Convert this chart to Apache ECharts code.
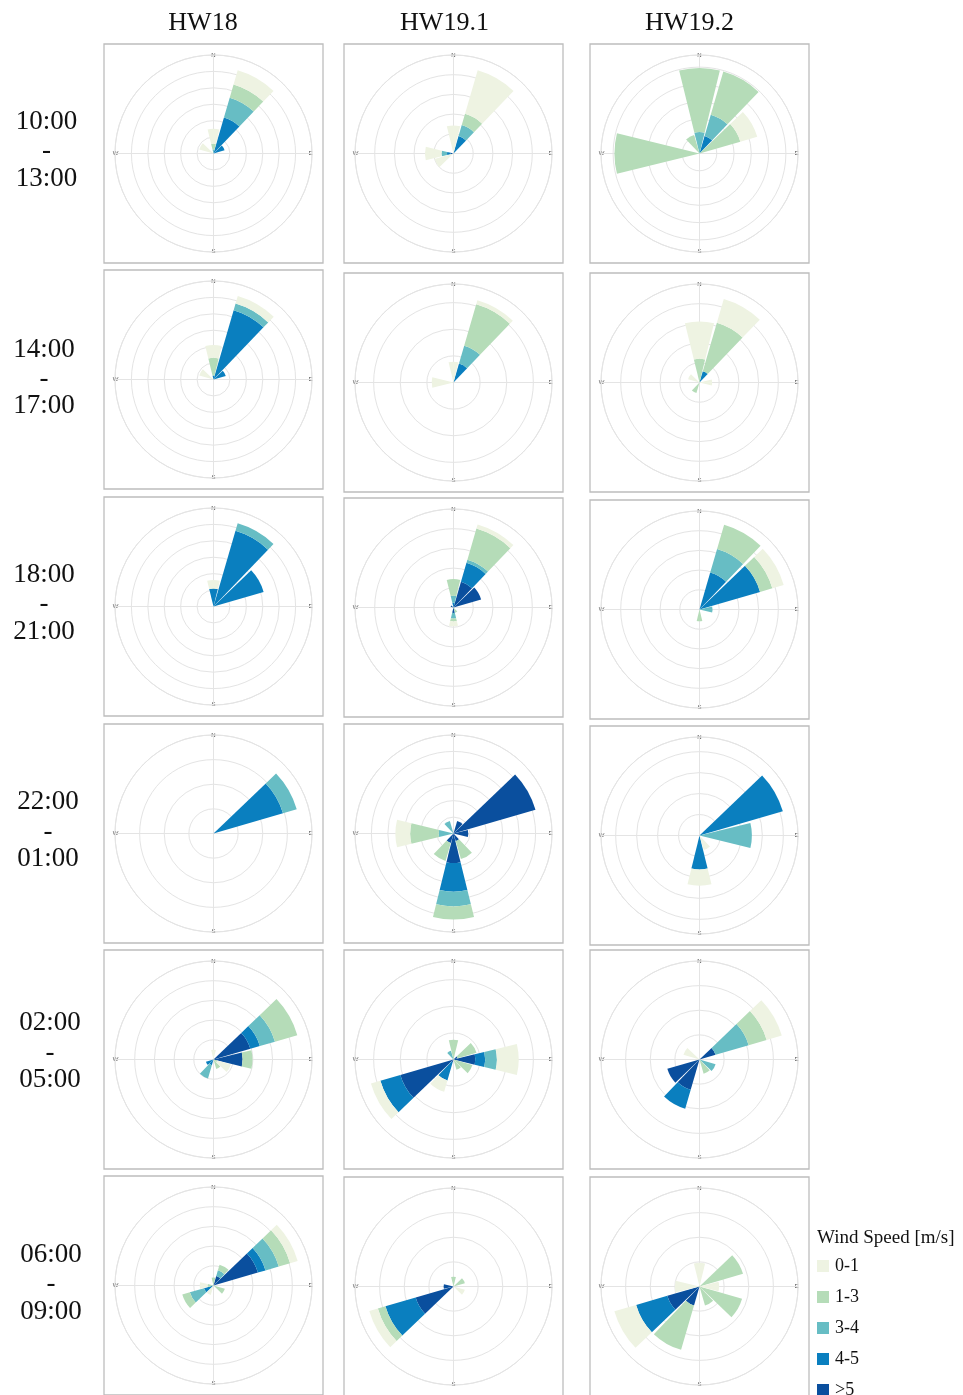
<!DOCTYPE html>
<html>
<head>
<meta charset="utf-8">
<script src="https://cdn.jsdelivr.net/npm/echarts@6/dist/echarts.min.js"></script>
<style>
  html, body { margin: 0; padding: 0; background: #ffffff; }
  #chart { width: 963px; height: 1395px; }
</style>
</head>
<body>
<div id="chart"></div>
<script>
// 12 direction sectors of 30 degrees, clockwise from north
const directions = ['N', 'NNE', 'ENE', 'E', 'ESE', 'SSE', 'S', 'SSW', 'WSW', 'W', 'WNW', 'NNW'];
// speed classes, stacked from the centre outwards
const speedBins = ['>5', '4-5', '3-4', '1-3', '0-1'];
const legendOrder = ['0-1', '1-3', '3-4', '4-5', '>5'];
const binColors = { '>5': '#0a4f9e', '4-5': '#0a7fbf', '3-4': '#67bdc4', '1-3': '#b5dcb8', '0-1': '#eef3e2' };
const stations = ['HW18', 'HW19.1', 'HW19.2'];
const periods = [
  ['10:00', '13:00'], ['14:00', '17:00'], ['18:00', '21:00'],
  ['22:00', '01:00'], ['02:00', '05:00'], ['06:00', '09:00']
];
const compass = { 0: 'N', 90: 'E', 180: 'S', 270: 'W' };

// Frequency (%) per direction. Rows: >5, 4-5, 3-4, 1-3, 0-1 m/s
// Columns: N, NNE, ENE, E, ESE, SSE, S, SSW, WSW, W, WNW, NNW
const HW18_10_13 = [
  [0, 0, 0, 0, 0, 0, 0, 0, 0, 0, 0, 0],
  [0, 11.4, 3.5, 0, 0, 0, 0, 0, 0, 0, 0, 0],
  [1.2, 6.3, 0, 0, 0, 0, 0, 0, 0, 0, 0, 0],
  [1.8, 4.2, 0, 0, 0, 0, 0, 0, 0, 0, 0, 0],
  [4.5, 4.5, 0, 0, 0, 0, 0, 0, 0, 0, 4.5, 0]
];
const HW191_10_13 = [
  [0, 0, 0, 0, 0, 0, 0, 0, 0, 0.74, 0, 0],
  [0, 4.6, 0, 0, 0, 0, 0, 0, 0, 0.9, 0, 0],
  [0, 2.9, 0, 0, 0, 0, 0, 0, 0, 1.4, 0, 0],
  [0, 3.0, 0, 0, 0, 0, 0, 0, 0, 0, 0, 0],
  [7.1, 11.5, 0, 0, 0, 0, 0, 0, 5.0, 4.2, 0, 0]
];
const HW192_10_13 = [
  [0, 0, 0, 0, 0, 0, 0, 0, 0, 0, 0, 0],
  [0, 5.3, 0, 0, 0, 0, 0, 0, 0, 0, 0, 0],
  [6.2, 6.4, 0, 0, 0, 0, 0, 0, 0, 0, 0, 0],
  [18.5, 13.0, 12.3, 0, 0, 0, 0, 0, 0, 24.6, 0, 5.6],
  [0, 0, 5.1, 0, 0, 0, 0, 0, 0, 0, 0, 0]
];
const HW18_14_17 = [
  [0, 0, 0, 0, 0, 0, 0, 0, 0, 0, 0, 0],
  [1.2, 22.0, 3.9, 0, 0, 0, 0, 0, 0, 0, 0, 0],
  [0, 2.1, 0, 0, 0, 0, 0, 0, 0, 0, 0, 0],
  [5.4, 0, 0, 0, 0, 0, 0, 0, 0, 0, 0, 0],
  [3.9, 2.4, 0, 0, 0, 0, 0, 0, 0, 0, 4.5, 0]
];
const HW191_14_17 = [
  [0, 0, 0, 0, 0, 0, 0, 0, 0, 0, 0, 0],
  [0, 3.7, 0, 0, 0, 0, 0, 0, 0, 0, 0, 0],
  [0, 3.5, 0, 0, 0, 0, 0, 0, 0, 0, 0, 0],
  [0, 8.1, 0, 0, 0, 0, 0, 0, 0, 0, 0, 0],
  [3.9, 0.8, 0, 0, 0, 0, 0, 0, 0, 4.1, 0, 0]
];
const HW192_14_17 = [
  [0, 0, 0, 0, 0, 0, 0, 0, 0, 0, 0, 0],
  [0, 3.0, 0, 0, 0, 0, 0, 0, 0, 0, 0, 0],
  [0, 0, 0, 0, 0, 0, 0, 0, 0, 0, 0, 0],
  [6.0, 12.8, 0, 0, 0, 0, 0, 2.8, 0, 0, 0, 0],
  [9.5, 6.3, 0, 3.2, 0, 0, 0, 0, 0, 0, 3.0, 0]
];
const HW18_18_21 = [
  [0, 0, 0, 0, 0, 0, 0, 0, 0, 0, 0, 0],
  [5.5, 24.0, 15.9, 0, 0, 0, 0, 0, 0, 0, 0, 0],
  [0, 2.4, 0, 0, 0, 0, 0, 0, 0, 0, 0, 0],
  [0, 0, 0, 0, 0, 0, 0, 0, 0, 0, 0, 0],
  [2.6, 0, 0, 0, 0, 0, 0, 0, 0, 0, 0, 0]
];
const HW191_18_21 = [
  [0, 6.8, 7.3, 0, 0, 0, 1.4, 0, 0, 0, 0.75, 0],
  [1.2, 5.0, 0, 0, 0, 0, 0, 0, 0, 0, 0, 0],
  [1.8, 0.85, 0, 0, 0, 0, 1.4, 0, 0, 0, 0, 0],
  [4.2, 8.2, 0, 0, 0, 1.4, 0.75, 0, 0, 0, 0, 0],
  [0, 1.1, 0, 0, 0, 0, 1.2, 0, 0, 0, 0, 0]
];
const HW192_18_21 = [
  [0, 0, 0, 0, 0, 0, 0, 0, 0, 0, 0, 0],
  [0, 9.75, 16.0, 0, 0, 0, 0, 0, 0, 0, 0, 0],
  [0, 6.25, 0, 3.3, 0, 0, 0, 0, 0, 0, 0, 0],
  [0, 6.4, 3.25, 0, 0, 0, 3.0, 0, 0, 0, 0, 0],
  [0, 0, 3.0, 0, 0, 0, 0, 0, 0, 0, 0, 0]
];
const HW18_22_01 = [
  [0, 0, 0, 0, 0, 0, 0, 0, 0, 0, 0, 0],
  [0, 0, 14.7, 0, 0, 0, 0, 0, 0, 0, 0, 0],
  [0, 0, 2.9, 0, 0, 0, 0, 0, 0, 0, 0, 0],
  [0, 0, 0, 0, 0, 0, 0, 0, 0, 0, 0, 0],
  [0, 0, 0, 0, 0, 0, 0, 0, 0, 0, 0, 0]
];
const HW191_22_01 = [
  [0, 4.0, 26.0, 4.5, 0, 2.4, 9.0, 3.0, 0, 0, 0, 0],
  [0, 0, 0, 0, 0, 0, 8.7, 0, 0, 0, 0, 0],
  [0, 0, 0, 0, 0, 0, 4.5, 0, 0, 4.5, 0, 4.0],
  [0, 0, 0, 0, 0, 5.7, 4.0, 5.7, 0, 8.7, 0, 0],
  [0, 0, 0, 0, 0, 0, 0, 0, 0, 4.5, 0, 0]
];
const HW192_22_01 = [
  [0, 0, 0, 0, 0, 0, 0, 0, 0, 0, 0, 0],
  [0, 0, 20.7, 0, 0, 0, 8.1, 0, 0, 0, 0, 0],
  [0, 0, 0, 12.5, 0, 0, 0, 0, 0, 0, 0, 0],
  [0, 0, 0, 0, 0, 0, 0, 0, 0, 0, 0, 0],
  [0, 0, 0, 0, 0, 3.6, 3.9, 0, 0, 0, 0, 0]
];
const HW18_02_05 = [
  [0, 0, 9.75, 7.4, 0, 0, 0, 0, 0, 0, 0, 0],
  [0, 0, 2.5, 0, 0, 0, 0, 1.5, 2.0, 0, 0, 0],
  [0, 0, 4.0, 0, 0, 0, 0, 3.5, 0, 0, 0, 0],
  [0, 0, 5.9, 2.5, 1.0, 2.5, 0, 0, 0, 0, 0, 0],
  [2.5, 0, 0, 0, 3.6, 0, 0, 0, 0, 0, 0, 0]
];
const HW191_02_05 = [
  [0, 0, 0.8, 4.1, 0, 0, 0, 0.5, 10.4, 0, 0, 0],
  [0, 0, 0, 1.85, 0, 0, 0, 3.6, 3.9, 0, 0, 0],
  [0, 0, 0, 2.2, 0, 0, 0, 0, 0, 0, 0, 1.7],
  [3.7, 0, 3.7, 0, 3.7, 2.0, 0, 0, 0, 0, 0, 0],
  [0, 0, 0, 4.1, 0, 0, 0, 2.2, 1.85, 0, 0, 0]
];
const HW192_02_05 = [
  [0, 0, 3.4, 0, 0, 0, 0, 6.4, 6.8, 0, 0, 0],
  [0, 0, 0, 0, 0, 0, 0, 4.0, 0, 0, 0, 0],
  [0, 0, 7.0, 0, 3.4, 0, 0, 0, 0, 0, 0, 0],
  [0, 0, 3.8, 0, 0, 3.0, 0, 0, 0, 0, 0, 0],
  [0, 0, 3.2, 0, 0, 0, 0, 0, 0, 0, 3.4, 0]
];
const HW18_06_09 = [
  [0, 2.5, 11.75, 0, 0, 0, 0, 0, 0, 0, 0, 0],
  [0, 0, 2.0, 0, 0, 0, 0, 0, 2.5, 0, 0, 0],
  [0, 1.5, 3.5, 0, 0, 0, 0, 0, 3.75, 0, 0, 0],
  [2.0, 1.5, 3.0, 0, 3.0, 0, 0, 0, 2.0, 1.5, 0, 0],
  [0, 0, 2.0, 0, 0, 0, 0, 2.5, 0, 2.0, 0, 0]
];
const HW191_06_09 = [
  [0, 0, 0, 0, 0, 0, 0, 0, 8.0, 2.0, 0, 0],
  [0, 0, 0, 0, 0, 0, 0, 0, 6.4, 0, 0, 0],
  [0, 0, 0, 0, 0, 0, 0, 0, 0, 0, 0, 0],
  [2.0, 0, 2.4, 0, 0, 0, 0, 0, 1.6, 0, 0, 0],
  [0, 0, 0, 0, 2.4, 0, 0, 0, 1.8, 0, 0, 0]
];
const HW192_06_09 = [
  [0, 0, 0, 0, 0, 0, 0, 4.0, 6.8, 0, 0, 0],
  [0, 0, 0, 0, 0, 0, 0, 0, 6.6, 0, 0, 0],
  [0, 0, 0, 0, 0, 0, 0, 0, 0, 0, 0, 0],
  [0, 0, 9.2, 0, 9.0, 4.0, 0, 9.4, 0, 0, 0, 0],
  [4.8, 0, 0, 4.0, 0, 0, 0, 0, 4.6, 5.0, 0, 0]
];

const panelData = [
  [HW18_10_13, HW191_10_13, HW192_10_13],
  [HW18_14_17, HW191_14_17, HW192_14_17],
  [HW18_18_21, HW191_18_21, HW192_18_21],
  [HW18_22_01, HW191_22_01, HW192_22_01],
  [HW18_02_05, HW191_02_05, HW192_02_05],
  [HW18_06_09, HW191_06_09, HW192_06_09]
];
// outer ring of each rose (%), rings every 5 %
const radiusMax = [
  [30, 25, 28.5],
  [30, 18.5, 25],
  [30, 25, 25],
  [20, 30, 23.5],
  [25, 18.5, 20],
  [25, 20, 20]
];
const ringStep = 5;

// page layout
const colLeft = [104, 344, 590];
const rowTop = [
  [44, 44, 44], [270, 273, 273], [497, 498, 500],
  [724, 724, 726], [950, 950, 950], [1176, 1177, 1177]
];
const BOX = 219;
const ROSE_R = 98.5;
const titleX = [203, 444.5, 689.5];
const rowLabelX = [46.5, 44, 44, 48, 50, 51];
const rowLabelY = [
  [122, 151, 179], [350, 379, 406], [575, 604, 632],
  [802, 832, 859], [1023, 1053, 1080], [1255, 1284, 1312]
];

const SERIF = '"Liberation Serif", "Times New Roman", serif';
const GRID = '#e4e4e4';

const polar = [], angleAxis = [], radiusAxis = [], series = [], graphic = [];

periods.forEach((period, r) => {
  stations.forEach((station, c) => {
    const x0 = colLeft[c], y0 = rowTop[r][c];
    const center = [x0 + BOX / 2, y0 + BOX / 2];
    graphic.push({
      type: 'rect', silent: true, z: 0,
      shape: { x: x0, y: y0, width: BOX, height: BOX },
      style: { fill: 'none', stroke: '#bdbdbd', lineWidth: 1.3 }
    });

    // grid layer: rings, compass cross and N/E/S/W letters
    const g = polar.length;
    polar.push({ center, radius: ROSE_R });
    angleAxis.push({
      polarIndex: g, type: 'value', min: 0, max: 360, interval: 90,
      startAngle: 90, clockwise: true, z: 1,
      axisLine: { show: true, lineStyle: { color: GRID, width: 1 } },
      axisTick: { show: false },
      splitLine: { show: true, lineStyle: { color: GRID, width: 1 } },
      axisLabel: {
        margin: -3.5, fontSize: 6, color: '#555',
        fontFamily: 'Liberation Sans, Arial, sans-serif',
        formatter: v => compass[v] || ''
      }
    });
    radiusAxis.push({
      polarIndex: g, type: 'value', min: 0, max: radiusMax[r][c], interval: ringStep, z: 1,
      axisLine: { show: false }, axisTick: { show: false }, axisLabel: { show: false },
      splitLine: { show: true, lineStyle: { color: GRID, width: 1 } }
    });

    // bar layer: direction sectors centred on 0, 30, ... 330 degrees
    const p = polar.length;
    polar.push({ center, radius: ROSE_R });
    angleAxis.push({
      polarIndex: p, type: 'category', data: directions, boundaryGap: true,
      startAngle: 105, clockwise: true,
      axisLine: { show: false }, axisTick: { show: false },
      splitLine: { show: false }, axisLabel: { show: false }
    });
    radiusAxis.push({
      polarIndex: p, type: 'value', min: 0, max: radiusMax[r][c],
      axisLine: { show: false }, axisTick: { show: false },
      axisLabel: { show: false }, splitLine: { show: false }
    });
    const rows = panelData[r][c];
    speedBins.forEach((bin, b) => {
      series.push({
        type: 'bar', coordinateSystem: 'polar', polarIndex: p,
        name: bin, stack: 'rose' + p, data: rows[b],
        barCategoryGap: '8%', silent: true, z: 3,
        itemStyle: { color: binColors[bin] }
      });
    });
  });
  // period label left of each row
  [period[0], '-', period[1]].forEach((txt, k) => {
    graphic.push({
      type: 'text', silent: true,
      style: {
        x: rowLabelX[r], y: rowLabelY[r][k], text: txt,
        font: '27px ' + SERIF, fill: '#111', textAlign: 'center', textVerticalAlign: 'middle'
      }
    });
  });
});

stations.forEach((station, c) => {
  graphic.push({
    type: 'text', silent: true,
    style: {
      x: titleX[c], y: 23, text: station, font: '26px ' + SERIF, fill: '#111',
      textAlign: 'center', textVerticalAlign: 'middle'
    }
  });
});

// speed legend
graphic.push({
  type: 'text', silent: true,
  style: {
    x: 817, y: 1238, text: 'Wind Speed [m/s]', font: '19px ' + SERIF, fill: '#111',
    textAlign: 'left', textVerticalAlign: 'middle'
  }
});
legendOrder.forEach((bin, k) => {
  const cy = 1266 + k * 31;
  graphic.push({
    type: 'rect', silent: true,
    shape: { x: 817, y: cy - 6, width: 12, height: 12 },
    style: { fill: binColors[bin] }
  });
  graphic.push({
    type: 'text', silent: true,
    style: {
      x: 835, y: cy, text: bin, font: '18px ' + SERIF, fill: '#111',
      textAlign: 'left', textVerticalAlign: 'middle'
    }
  });
});

const chart = echarts.init(document.getElementById('chart'), null, { renderer: 'canvas' });
chart.setOption({
  animation: false,
  backgroundColor: '#ffffff',
  polar, angleAxis, radiusAxis, series,
  graphic
});
</script>
</body>
</html>
